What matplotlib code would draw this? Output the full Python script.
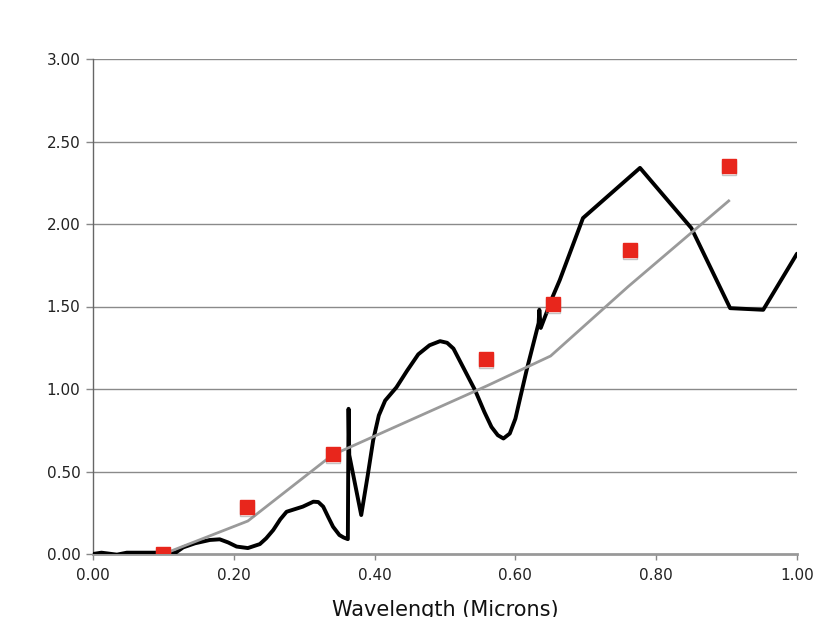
import matplotlib
matplotlib.use("Agg")
import matplotlib.pyplot as plt
import matplotlib.patheffects as pe

# Black spectral curve (wavelength in microns, value)
curve_x = [0.000, 0.012, 0.034, 0.048, 0.070, 0.100, 0.118, 0.128, 0.145, 0.166, 0.180,
           0.192, 0.204, 0.220, 0.237, 0.246, 0.256, 0.266, 0.275, 0.298, 0.313,
           0.320, 0.327, 0.334, 0.341, 0.350, 0.356,
           0.362, 0.363, 0.364, 0.381, 0.390, 0.398, 0.406, 0.415, 0.431, 0.446,
           0.462, 0.478, 0.493, 0.503, 0.512, 0.526, 0.543, 0.556, 0.566, 0.575,
           0.583, 0.592, 0.600, 0.607, 0.616, 0.633, 0.634, 0.636, 0.653,
           0.663, 0.696, 0.777, 0.850, 0.905, 0.952, 1.000]
curve_y = [0.000, 0.008, -0.004, 0.008, 0.008, 0.008, 0.010, 0.040, 0.065, 0.085, 0.089,
           0.070, 0.045, 0.036, 0.060, 0.095, 0.145, 0.210, 0.256, 0.287, 0.317,
           0.315, 0.287, 0.225, 0.165, 0.115, 0.100,
           0.090, 0.880, 0.600, 0.236, 0.470, 0.690, 0.840, 0.930, 1.010, 1.110,
           1.210, 1.265, 1.290, 1.280, 1.245, 1.130, 0.990, 0.860, 0.770, 0.720,
           0.700, 0.730, 0.820, 0.950, 1.115, 1.400, 1.480, 1.370, 1.560,
           1.660, 2.036, 2.340, 1.975, 1.490, 1.480, 1.820]

# Red square measurements
meas_x = [0.10, 0.219, 0.341, 0.558, 0.653, 0.763, 0.903]
meas_y = [0.00, 0.285, 0.606, 1.180, 1.515, 1.840, 2.350]

# Gray model line
model_x = [0.10, 0.22, 0.34, 0.56, 0.65, 0.76, 0.903]
model_y = [0.00, 0.20, 0.60, 1.02, 1.20, 1.62, 2.14]

x_ticks = [0.0, 0.2, 0.4, 0.6, 0.8, 1.0]
y_ticks = [0.0, 0.5, 1.0, 1.5, 2.0, 2.5, 3.0]

fig = plt.figure(figsize=(8.15, 6.17), dpi=100)
ax = fig.add_axes([93/815, 1-554/617, (797-93)/815, (554-59)/617])

for yv in y_ticks[1:]:
    ax.axhline(yv, color="#8a8a8a", lw=1.0, zorder=1)

ax.plot(curve_x, curve_y, color="black", lw=2.8, solid_joinstyle="round",
        solid_capstyle="round", zorder=3)
ax.plot(model_x, model_y, color="#9a9a9a", lw=2.0, zorder=4)
ax.plot(meas_x, meas_y, ls="none", marker="s", ms=10, mfc="#e8261c", mec="#e8261c",
        zorder=5,
        path_effects=[pe.SimpleLineShadow(offset=(0, -1.2), shadow_color="#888888", alpha=0.5),
                      pe.Normal()])

ax.set_xlim(0, 1.0)
ax.set_ylim(0, 3.0)
ax.set_xticks(x_ticks)
ax.set_yticks(y_ticks)
ax.set_xticklabels([f"{v:.2f}" for v in x_ticks])
ax.set_yticklabels([f"{v:.2f}" for v in y_ticks])
ax.tick_params(axis="both", labelsize=11, colors="#222222")
ax.tick_params(axis="x", length=4, width=1, color="#888888", pad=6)
ax.tick_params(axis="y", length=5, width=1, color="#888888", pad=4)

for s in ["top", "right"]:
    ax.spines[s].set_visible(False)
ax.spines["left"].set_color("#666666")
ax.spines["left"].set_linewidth(1.0)
ax.spines["bottom"].set_color("#999999")
ax.spines["bottom"].set_linewidth(2.0)

ax.set_xlabel("Wavelength (Microns)", fontsize=15, color="#111111", labelpad=12)

fig.savefig("out.png", dpi=100)
